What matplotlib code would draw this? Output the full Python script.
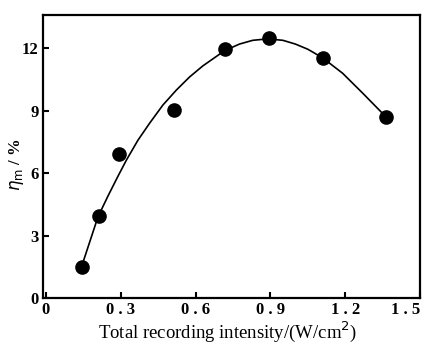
import matplotlib
matplotlib.use('Agg')
from matplotlib import pyplot as plt

# measured points
intensity = [0.143, 0.212, 0.293, 0.512, 0.716, 0.896, 1.109, 1.363]
efficiency = [1.50, 3.94, 6.91, 9.02, 11.94, 12.50, 11.54, 8.70]

# smooth curve
curve_x = [0.143, 0.209, 0.249, 0.289, 0.323, 0.369, 0.416, 0.469, 0.523, 0.576, 0.629,
           0.716, 0.776, 0.829, 0.889, 0.95, 1.0, 1.05, 1.109, 1.189, 1.269, 1.363]
curve_y = [1.50, 3.90, 4.90, 5.85, 6.63, 7.58, 8.40, 9.27, 9.99, 10.62, 11.15,
           11.88, 12.20, 12.38, 12.45, 12.38, 12.20, 11.95, 11.54, 10.80, 9.85, 8.70]

xtick_vals = [0, 0.3, 0.6, 0.9, 1.2, 1.5]
xtick_labels = ['0', '0 . 3', '0 . 6', '0 . 9', '1 . 2', '1 . 5']
ytick_vals = [0, 3, 6, 9, 12]

plt.rcParams['font.family'] = ['Liberation Serif', 'DejaVu Serif']

fig = plt.figure(figsize=(4.24, 3.47), dpi=100)
ax = fig.add_axes([0.101, 0.141, 0.890, 0.816])

ax.plot(curve_x, curve_y, color='black', lw=1.2, solid_joinstyle='round')
ax.plot(intensity, efficiency, 'o', color='black', ms=9.5)

ax.set_xlim(-0.012, 1.497)
ax.set_ylim(0, 13.6)
ax.set_xticks(xtick_vals)
ax.set_xticklabels(xtick_labels)
ax.set_yticks(ytick_vals)
ax.tick_params(direction='in', length=4, width=1.5, labelsize=12, pad=3)
for lab in ax.get_xticklabels() + ax.get_yticklabels():
    lab.set_fontweight('bold')
ax.get_xticklabels()[-1].set_horizontalalignment('right')
for s in ax.spines.values():
    s.set_linewidth(1.6)

ax.set_xlabel('Total recording intensity/(W/cm$^2$)', fontsize=13.5)
ax.xaxis.set_label_coords(0.49, -0.075)
ax.set_ylabel(r'$\eta_{\rm m}$ / %', fontsize=12, fontweight='bold')
ax.yaxis.set_label_coords(-0.045, 0.47)

plt.savefig('out.png', dpi=100)
